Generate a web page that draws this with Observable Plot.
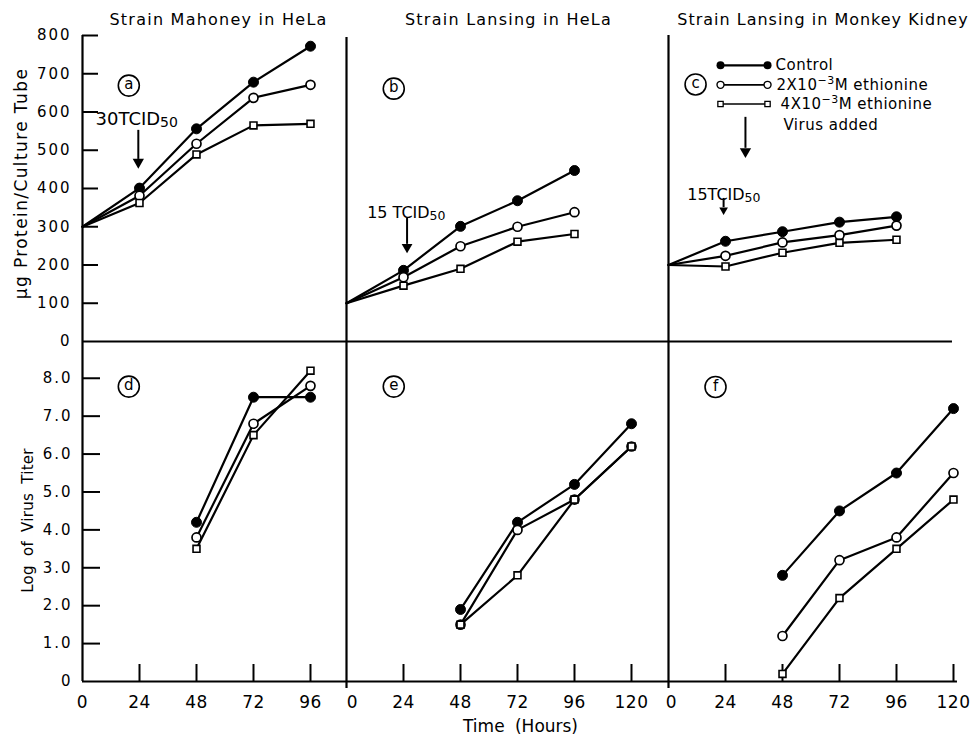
<!DOCTYPE html>
<html>
<head>
<meta charset="utf-8">
<script src="https://cdn.jsdelivr.net/npm/d3@7"></script>
<script src="https://cdn.jsdelivr.net/npm/@observablehq/plot@0.6"></script>
<style>
  html, body { margin: 0; padding: 0; background: #fff; }
  #chart { position: relative; width: 977px; height: 739px; background: #fff; overflow: hidden; }
  #chart svg { position: absolute; overflow: visible; }
  g[aria-label="y-axis tick label"] text { letter-spacing: 2px; }
  g[aria-label="x-axis tick label"] text { letter-spacing: 0.5px; }
  g[aria-description="title"] text { letter-spacing: 1px; }
  g[aria-description="title wide"] text { letter-spacing: 1.25px; }
  g[aria-description="ylabel"] text { letter-spacing: 1.4px; }
  g[aria-description="ylabel2"] text { letter-spacing: 0.3px; word-spacing: 4px; }
  g[aria-description="xlabel"] text { word-spacing: 5px; }
  g[aria-description="legend text"] text { letter-spacing: 0.5px; }
</style>
</head>
<body>
<div id="chart"></div>
<script>
// ---------------- data ----------------
const treatments = ["Control", "2X10⁻³M ethionine", "4X10⁻³M ethionine"];
const panelTitles = ["Strain Mahoney in HeLa", "Strain Lansing in HeLa", "Strain Lansing in Monkey Kidney"];
const doseLabels = ["30TCID50", "15 TCID50", "15TCID50"];
const proteinHours = [0, 24, 48, 72, 96];
const titerHoursD = [48, 72, 96];
const titerHoursEF = [48, 72, 96, 120];
const proteinTicks = [0, 100, 200, 300, 400, 500, 600, 700, 800];
const titerTicks = [0, 1, 2, 3, 4, 5, 6, 7, 8];
const hourTicksA = [0, 24, 48, 72, 96];
const hourTicksBC = [0, 24, 48, 72, 96, 120];

// (a) Mahoney in HeLa — µg protein / culture tube
const aControl = [300, 401, 556, 678, 772];
const aEth2    = [300, 381, 517, 637, 671];
const aEth4    = [300, 362, 489, 565, 569];
// (b) Lansing in HeLa
const bControl = [100, 186, 301, 368, 447];
const bEth2    = [100, 168, 249, 300, 338];
const bEth4    = [100, 146, 190, 261, 281];
// (c) Lansing in Monkey Kidney
const cControl = [200, 262, 287, 312, 326];
const cEth2    = [200, 224, 259, 278, 303];
const cEth4    = [200, 196, 232, 258, 266];
// (d) log virus titer, Mahoney in HeLa
const dControl = [4.2, 7.5, 7.5];
const dEth2    = [3.8, 6.8, 7.8];
const dEth4    = [3.5, 6.5, 8.2];
// (e) Lansing in HeLa
const eControl = [1.9, 4.2, 5.2, 6.8];
const eEth2    = [1.5, 4.0, 4.8, 6.2];
const eEth4    = [1.5, 2.8, 4.8, 6.2];
// (f) Lansing in Monkey Kidney
const fControl = [2.8, 4.5, 5.5, 7.2];
const fEth2    = [1.2, 3.2, 3.8, 5.5];
const fEth4    = [0.2, 2.2, 3.5, 4.8];

// ---------------- helpers ----------------
function rows(hours, ...series) {
  return series.flatMap((vals, i) => vals.map((v, j) => ({hour: hours[j], value: v, treatment: treatments[i]})));
}
function seriesMarks(data) {
  const pts = data.filter(d => d.hour > 0);
  return [
    Plot.line(data, {x: "hour", y: "value", z: "treatment", stroke: "black", strokeWidth: 2.2, strokeLinejoin: "round"}),
    Plot.dot(pts.filter(d => d.treatment === treatments[0]), {x: "hour", y: "value", r: 5, fill: "black", stroke: "black", strokeWidth: 1}),
    Plot.dot(pts.filter(d => d.treatment === treatments[1]), {x: "hour", y: "value", r: 4.5, fill: "white", stroke: "black", strokeWidth: 1.7}),
    Plot.dot(pts.filter(d => d.treatment === treatments[2]), {x: "hour", y: "value", r: 3.9, symbol: "square", fill: "white", stroke: "black", strokeWidth: 1.6})
  ];
}
function letterMarks(p) {
  return [
    Plot.dot([p], {x: "x", y: "y", r: 10.5, fill: "white", stroke: "black", strokeWidth: 1.6}),
    Plot.text([p], {x: "x", y: "y", text: "letter", fontSize: 15, dy: -1})
  ];
}
function arrowMarks(a) {
  return [
    Plot.ruleX([a], {x: "x", y1: "y1", y2: "y2", strokeWidth: 2}),
    Plot.dot([a], {x: "x", y: "head", r: a.r, symbol: "triangle", rotate: 180, fill: "black", stroke: "none"})
  ];
}
const fmtTiter = d => d === 0 ? "0" : d.toFixed(1);

const PXH = 2.375; // pixels per hour (layout)
const M = {l: 90, r: 40, t: 45, b: 60};
const root = document.getElementById("chart");
const SVGNS = "http://www.w3.org/2000/svg";

function richText(svg) {
  svg.querySelectorAll("text").forEach(t => {
    const s = t.textContent;
    let m = s.match(/^(.*TCID)50$/);
    if (m) {
      t.textContent = m[1];
      const sp = document.createElementNS(SVGNS, "tspan");
      sp.setAttribute("dy", "2");
      sp.setAttribute("font-size", "0.78em");
      sp.textContent = "50";
      t.append(sp);
      return;
    }
    m = s.match(/^(.*)⁻³(.*)$/);
    if (m) {
      t.textContent = m[1];
      const sup = document.createElementNS(SVGNS, "tspan");
      sup.setAttribute("dy", "-6");
      sup.setAttribute("font-size", "11");
      sup.textContent = "−3";
      const rest = document.createElementNS(SVGNS, "tspan");
      rest.setAttribute("dy", "6");
      rest.textContent = m[2];
      t.append(sup, rest);
    }
  });
}

function panel(x0, hMax, yTop, yBottom, yDomain, marks, {xAxis = false, yAxis = false} = {}) {
  const w = hMax * PXH, h = yBottom - yTop;
  const svg = Plot.plot({
    width: M.l + w + M.r,
    height: M.t + h + M.b,
    marginLeft: M.l, marginRight: M.r, marginTop: M.t, marginBottom: M.b,
    x: Object.assign({type: "linear", domain: [0, hMax]}, xAxis ? {} : {axis: null}),
    y: Object.assign({type: "linear", domain: yDomain}, yAxis ? {} : {axis: null}),
    style: {background: "transparent", overflow: "visible", color: "black", fontFamily: "'DejaVu Sans', sans-serif", fontSize: "15px"},
    marks
  });
  svg.style.left = (x0 - M.l) + "px";
  svg.style.top = (yTop - M.t) + "px";
  richText(svg);
  root.append(svg);
}

const colA = {x0: 82, hMax: 111.16};
const colB = {x0: 346, hMax: 135.58};
const colC = {x0: 668, hMax: 121.68};
const topRow = {y0: 35, y1: 341, domain: [0, 800]};
const botRow = {y0: 341, y1: 681, domain: [0, 8.97]};

const titleOpts = {text: d => d, frameAnchor: "top", textAnchor: "middle", lineAnchor: "middle", dy: -16, fontSize: 16, ariaDescription: "title"};

// ---------------- top row: protein ----------------
panel(colA.x0, colA.hMax, topRow.y0, topRow.y1, topRow.domain, [
  Plot.ruleY([0], {strokeWidth: 2.2}),
  Plot.ruleX([0], {strokeWidth: 2.2}),
  Plot.axisY(proteinTicks.slice(1), {tickSize: -16, fill: "none", strokeWidth: 2, label: null}),
  Plot.axisY(proteinTicks, {tickSize: 0, tickPadding: 11, fontSize: 15, label: null}),
  Plot.text(["µg Protein/Culture Tube"], {text: d => d, frameAnchor: "left", textAnchor: "middle", lineAnchor: "middle", rotate: -90, dx: -61, dy: -5, fontSize: 17, ariaDescription: "ylabel"}),
  Plot.text([panelTitles[0]], {...titleOpts, dx: 4, ariaDescription: "title wide"}),
  ...seriesMarks(rows(proteinHours, aControl, aEth2, aEth4)),
  ...letterMarks({x: 19.5, y: 669, letter: "a"}),
  ...arrowMarks({x: 23.5, y1: 552, y2: 476, head: 469, r: 4.2}),
  Plot.text([doseLabels[0]], {text: d => d, x: 5.5, y: 582, textAnchor: "start", fontSize: 18})
], {yAxis: true});

panel(colB.x0, colB.hMax, topRow.y0, topRow.y1, topRow.domain, [
  Plot.ruleY([0], {strokeWidth: 2.2}),
  Plot.ruleX([0], {strokeWidth: 2.2, insetTop: 2}),
  Plot.text([panelTitles[1]], {...titleOpts, dx: 1, ariaDescription: "title wide"}),
  ...seriesMarks(rows(proteinHours, bControl, bEth2, bEth4)),
  ...letterMarks({x: 19.9, y: 661, letter: "b"}),
  ...arrowMarks({x: 25.5, y1: 322, y2: 254, head: 247, r: 4}),
  Plot.text([doseLabels[1]], {text: d => d, x: 8.7, y: 336, textAnchor: "start", fontSize: 16})
]);

const legendRows = treatments.map((t, i) => ({treatment: t, y: [722, 671, 621][i], lx: [45.1, 45.5, 47.2][i], w: [2.2, 1.9, 1.5][i]}));
const legendEnds = legendRows.flatMap(d => [21.9, 41.7].map(x => ({x, y: d.y, treatment: d.treatment})));
panel(colC.x0, colC.hMax, topRow.y0, topRow.y1, topRow.domain, [
  Plot.ruleY([0], {strokeWidth: 2.2, insetRight: 5}),
  Plot.ruleX([0], {strokeWidth: 2.2}),
  Plot.text([panelTitles[2]], {...titleOpts, dx: 10}),
  ...seriesMarks(rows(proteinHours, cControl, cEth2, cEth4)),
  ...letterMarks({x: 11.4, y: 672, letter: "c"}),
  Plot.link(legendRows, {x1: 21.9, x2: 41.7, y1: "y", y2: "y", stroke: "black", strokeWidth: "w"}),
  Plot.dot(legendEnds.filter(d => d.treatment === treatments[0]), {x: "x", y: "y", r: 4, fill: "black"}),
  Plot.dot(legendEnds.filter(d => d.treatment === treatments[1]), {x: "x", y: "y", r: 3.5, fill: "white", stroke: "black", strokeWidth: 1.4}),
  Plot.dot(legendEnds.filter(d => d.treatment === treatments[2]), {x: "x", y: "y", r: 3, symbol: "square", fill: "white", stroke: "black", strokeWidth: 1.3}),
  Plot.text(legendRows, {x: "lx", y: "y", text: "treatment", textAnchor: "start", fontSize: 15, ariaDescription: "legend text"}),
  Plot.text(["Virus added"], {text: d => d, x: 48.4, y: 565, textAnchor: "start", fontSize: 15, ariaDescription: "legend text"}),
  ...arrowMarks({x: 32.4, y1: 586, y2: 505, head: 497, r: 4.2}),
  ...arrowMarks({x: 23.2, y1: 374, y2: 350, head: 344, r: 3.2}),
  Plot.text([doseLabels[2]], {text: d => d, x: 7.9, y: 384, textAnchor: "start", fontSize: 16})
]);

// ---------------- bottom row: virus titer ----------------
panel(colA.x0, colA.hMax, botRow.y0, botRow.y1, botRow.domain, [
  Plot.ruleY([0], {strokeWidth: 2.2}),
  Plot.ruleX([0], {strokeWidth: 2.2}),
  Plot.axisY(titerTicks.slice(1), {tickSize: -18, fill: "none", strokeWidth: 2, label: null}),
  Plot.axisY(titerTicks, {tickSize: 0, tickPadding: 10, fontSize: 15, tickFormat: fmtTiter, label: null}),
  Plot.axisX(hourTicksA.slice(1), {tickSize: -17, fill: "none", strokeWidth: 2, label: null}),
  Plot.axisX(hourTicksA, {tickSize: 0, tickPadding: 14, fontSize: 17, label: null}),
  Plot.text(["Log of Virus Titer"], {text: d => d, frameAnchor: "left", textAnchor: "middle", lineAnchor: "middle", rotate: -90, dx: -54, dy: 9, fontSize: 15, ariaDescription: "ylabel2"}),
  ...seriesMarks(rows(titerHoursD, dControl, dEth2, dEth4)),
  ...letterMarks({x: 19.5, y: 7.78, letter: "d"})
], {xAxis: true, yAxis: true});

panel(colB.x0, colB.hMax, botRow.y0, botRow.y1, botRow.domain, [
  Plot.ruleY([0], {strokeWidth: 2.2}),
  Plot.ruleX([0], {strokeWidth: 2.2, insetBottom: -7}),
  Plot.axisX(hourTicksBC.slice(1), {tickSize: -17, fill: "none", strokeWidth: 2, label: null}),
  Plot.axisX(hourTicksBC.slice(1), {tickSize: 0, tickPadding: 14, fontSize: 17, label: null}),
  Plot.axisX(hourTicksBC.slice(0, 1), {tickSize: 0, tickPadding: 14, fontSize: 17, dx: 6, label: null}),
  Plot.text(["Time (Hours)"], {text: d => d, frameAnchor: "bottom", textAnchor: "middle", lineAnchor: "middle", dx: 13, dy: 45, fontSize: 17, ariaDescription: "xlabel"}),
  ...seriesMarks(rows(titerHoursEF, eControl, eEth2, eEth4)),
  ...letterMarks({x: 19.9, y: 7.78, letter: "e"})
], {xAxis: true});

panel(colC.x0, colC.hMax, botRow.y0, botRow.y1, botRow.domain, [
  Plot.ruleY([0], {strokeWidth: 2.2}),
  Plot.ruleX([0], {strokeWidth: 2.2, insetBottom: -7}),
  Plot.axisX(hourTicksBC.slice(1), {tickSize: -17, fill: "none", strokeWidth: 2, label: null}),
  Plot.axisX(hourTicksBC.slice(1), {tickSize: 0, tickPadding: 14, fontSize: 17, label: null}),
  Plot.axisX(hourTicksBC.slice(0, 1), {tickSize: 0, tickPadding: 14, fontSize: 17, dx: 3, label: null}),
  ...seriesMarks(rows(titerHoursEF, fControl, fEth2, fEth4)),
  ...letterMarks({x: 19.8, y: 7.77, letter: "f"})
], {xAxis: true});
</script>
</body>
</html>
